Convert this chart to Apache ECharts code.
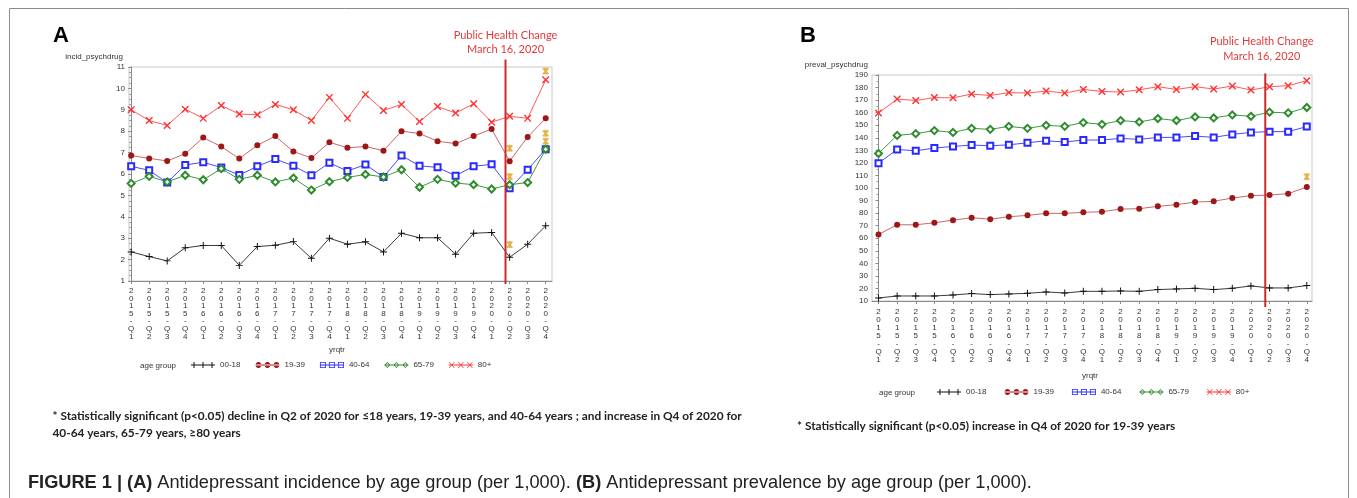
<!DOCTYPE html>
<html><head><meta charset="utf-8">
<script src="https://cdn.jsdelivr.net/npm/echarts@6/dist/echarts.min.js"></script>
<style>html,body{margin:0;padding:0;background:#fff}#c{width:1357px;height:498px}</style>
</head><body><div id="c"></div>
<script>
// ---------------- data ----------------
const quarters = ['2015-Q1','2015-Q2','2015-Q3','2015-Q4','2016-Q1','2016-Q2','2016-Q3','2016-Q4',
  '2017-Q1','2017-Q2','2017-Q3','2017-Q4','2018-Q1','2018-Q2','2018-Q3','2018-Q4',
  '2019-Q1','2019-Q2','2019-Q3','2019-Q4','2020-Q1','2020-Q2','2020-Q3','2020-Q4'];
const groups = ['00-18','19-39','40-64','65-79','80+'];

// Panel A: incidence per 1,000
const incid_0018 = [2.36,2.14,1.94,2.55,2.66,2.66,1.73,2.61,2.67,2.84,2.06,3.00,2.72,2.83,2.36,3.23,3.02,3.02,2.25,3.23,3.27,2.11,2.72,3.58];
const incid_1939 = [6.86,6.73,6.61,6.95,7.70,7.28,6.72,7.34,7.77,7.05,6.75,7.48,7.23,7.28,7.09,8.00,7.89,7.53,7.42,7.77,8.10,6.60,7.73,8.60];
const incid_4064 = [6.36,6.17,5.60,6.42,6.55,6.30,5.95,6.36,6.70,6.38,5.94,6.52,6.14,6.44,5.86,6.86,6.38,6.31,5.92,6.36,6.45,5.33,6.20,7.16];
const incid_6579 = [5.56,5.89,5.63,5.94,5.73,6.25,5.75,5.94,5.63,5.81,5.25,5.64,5.84,5.98,5.86,6.20,5.38,5.75,5.58,5.50,5.30,5.50,5.60,7.16];
const incid_80   = [9.00,8.50,8.27,9.03,8.60,9.20,8.80,8.77,9.25,9.00,8.50,9.58,8.60,9.72,8.97,9.25,8.45,9.15,8.85,9.28,8.42,8.70,8.60,10.40];
const incid_sig  = [[21,7.20],[21,5.88],[21,2.70],[23,10.81],[23,7.90],[23,7.53]];

// Panel B: prevalence per 1,000
const preval_0018 = [12.4,14.0,14.0,14.0,14.8,15.9,15.1,15.6,16.1,17.2,16.4,17.7,17.7,18.0,17.7,19.1,19.6,20.1,19.1,20.1,22.0,20.4,20.4,22.3];
const preval_1939 = [63.0,70.7,70.7,72.3,74.4,76.3,75.2,77.1,78.2,79.8,79.8,80.6,81.1,83.2,83.5,85.4,86.7,88.8,89.4,92.0,93.9,94.4,95.5,100.8];
const preval_4064 = [119.8,130.7,129.6,131.8,133.1,134.2,133.6,134.4,136.0,137.6,136.6,138.2,138.2,139.5,138.7,140.3,140.3,141.4,140.3,142.7,144.3,144.9,144.9,148.9];
const preval_6579 = [127.5,141.9,143.3,145.7,144.3,147.5,146.7,149.1,147.5,149.9,149.1,152.1,150.7,153.7,152.6,155.3,153.7,156.6,155.8,158.2,157.1,160.4,159.8,164.1];
const preval_80   = [159.8,170.8,169.7,172.0,171.8,174.8,173.7,176.0,175.6,177.2,175.6,178.5,176.9,176.4,178.2,180.7,178.5,180.7,178.8,181.2,178.0,180.7,181.5,185.5];
const preval_sig  = [[23,109]];

// Axis ranges / ticks
const incidAxis  = {min:1,  max:11,  step:1};
const prevalAxis = {min:10, max:190, step:10};
const eventPos = 20.77;  // March 16, 2020 on the quarter index scale
const eventText = 'Public Health Change\nMarch 16, 2020';

// ---------------- styles ----------------
const colors = {
  '00-18': {line:'#3a3a3a', mark:'#111111'},
  '19-39': {line:'#c46a6a', mark:'#9e1616'},
  '40-64': {line:'#4a4aff', mark:'#2a2aff'},
  '65-79': {line:'#3f9a3f', mark:'#2e8b2e'},
  '80+':   {line:'#ff5a5a', mark:'#ff3030'}
};
const PLUS = 'path://M0,4.3L10,4.3L10,5.7L0,5.7Z M4.3,0L5.7,0L5.7,10L4.3,10Z';
const XMARK = 'path://M0,0L1.4,0L10,8.6L10,10L8.6,10L0,1.4Z M10,0L10,1.4L1.4,10L0,10L0,8.6L8.6,0Z';
const STAR = 'path://M4,0L6,0L6,10L4,10Z M1.634,1.17L3.366,0.17L8.366,8.83L6.634,9.83Z M6.634,0.17L8.366,1.17L3.366,9.83L1.634,8.83Z';
const symbols = {
  '00-18': {symbol:PLUS, size:7, empty:false},
  '19-39': {symbol:'circle', size:6, empty:false},
  '40-64': {symbol:'emptyRect', size:6, empty:true},
  '65-79': {symbol:'emptyDiamond', size:7, empty:true},
  '80+':   {symbol:XMARK, size:7, empty:false}
};

// legend icons: line with three markers (box 24 x 6)
function legendIcon(g){
  let p = 'M0,2.5L24,2.5L24,3.5L0,3.5Z';
  [3,12,21].forEach(cx=>{
    if(g==='00-18') p += ` M${cx-0.5},0L${cx+0.5},0L${cx+0.5},6L${cx-0.5},6Z`;
    if(g==='19-39') p += ` M${cx-2.7},3A2.7,2.7 0 1,0 ${cx+2.7},3A2.7,2.7 0 1,0 ${cx-2.7},3Z`;
    if(g==='40-64') p += ` M${cx-3},0L${cx+3},0L${cx+3},6L${cx-3},6Z M${cx-2.2},0.8L${cx-2.2},5.2L${cx+2.2},5.2L${cx+2.2},0.8Z`;
    if(g==='65-79') p += ` M${cx},0L${cx+3},3L${cx},6L${cx-3},3Z M${cx},1.1L${cx-1.9},3L${cx},4.9L${cx+1.9},3Z`;
    if(g==='80+') p += ` M${cx-3},0L${cx-2.2},0L${cx+3},6L${cx+2.2},6Z M${cx+2.2},0L${cx+3},0L${cx-2.2},6L${cx-3},6Z`;
  });
  return 'path://' + p;
}

const FONT = 'Liberation Sans';

function xAxisFor(g, min, max, lh, margin){
  return {
    type:'value', gridIndex:g, min:min, max:max,
    axisLine:{show:true, lineStyle:{color:'#8a8a8a'}},
    axisTick:{show:true, length:3, customValues:quarters.map((q,i)=>i), lineStyle:{color:'#8a8a8a'}},
    axisLabel:{customValues:quarters.map((q,i)=>i), fontSize:8, fontFamily:FONT, color:'#333', lineHeight:lh, margin:margin,
      formatter:v=>{const q = quarters[Math.round(v)]; return q ? q.split('').join('\n') : '';}},
    splitLine:{show:false}
  };
}
function yAxisFor(g, ax, minorSplit){
  return {
    type:'value', gridIndex:g, min:ax.min, max:ax.max, interval:ax.step,
    axisLine:{show:true, lineStyle:{color:'#8a8a8a'}},
    axisTick:{show:true, length:3, lineStyle:{color:'#8a8a8a'}},
    minorTick:{show:true, splitNumber:minorSplit, length:2, lineStyle:{color:'#9a9a9a'}},
    axisLabel:{fontSize:8, fontFamily:FONT, color:'#333', margin:4},
    splitLine:{show:false}
  };
}

function panelSeries(g, arrays, sig, ax, ev){
  const out = groups.map((name,k)=>{
    const s = symbols[name], c = colors[name];
    return {
      type:'line', name:name, xAxisIndex:g, yAxisIndex:g,
      data: arrays[k].map((v,i)=>[i,v]),
      symbol:s.symbol, symbolSize:s.size, showAllSymbol:true,
      lineStyle:{color:c.line, width:1},
      itemStyle: s.empty ? {color:c.mark, borderColor:c.mark, borderWidth:1} : {color:c.mark, borderWidth:0},
      emphasis:{disabled:true}, animation:false, z:3+k
    };
  });
  out.push({
    type:'scatter', name:'sig', xAxisIndex:g, yAxisIndex:g, data:sig,
    symbol:STAR, symbolSize:7, itemStyle:{color:'#d9a21e'}, z:10, animation:false, emphasis:{disabled:true}
  });
  out.push({
    type:'custom', name:'event', xAxisIndex:g, yAxisIndex:g, data:[[eventPos, ax.max]], silent:true, z:20, animation:false,
    renderItem:(params, api)=>{
      const top = api.coord([api.value(0), ax.max]);
      const bot = api.coord([api.value(0), ax.min]);
      const y1 = top[1]-ev.extTop;
      return {type:'group', children:[
        {type:'line', shape:{x1:top[0], y1:y1, x2:bot[0], y2:bot[1]+ev.extBot}, style:{stroke:'#d02828', lineWidth:2}},
        {type:'text', x:top[0]+ev.dx, y:y1-ev.gap, style:{text:eventText, align:'center', verticalAlign:'bottom',
          fill:'#e23a3a', fontSize:11, fontFamily:'Lato', lineHeight:ev.lh}}
      ]};
    }
  });
  return out;
}

function legendFor(left, top, gap){
  return {
    left:left, top:top, orient:'horizontal', itemWidth:24, itemHeight:6, itemGap:gap, padding:0,
    selectedMode:false, symbolKeepAspect:false,
    textStyle:{fontSize:8, fontFamily:FONT, color:'#333'},
    data: groups.map(g=>({name:g, icon:legendIcon(g), itemStyle:{color:colors[g].mark, borderWidth:0}}))
  };
}

const chart = echarts.init(document.getElementById('c'), null, {renderer:'canvas'});
const note = {fontFamily:'Lato', fontSize:11.85, fontWeight:'bold', fill:'#222'};
chart.setOption({
  animation:false,
  backgroundColor:'#fff',
  grid:[
    {left:129, top:67, width:423, height:214, show:true, borderColor:'#c8c8c8', borderWidth:1},
    {left:872, top:75, width:440, height:226, show:true, borderColor:'#c8c8c8', borderWidth:1}
  ],
  xAxis:[ xAxisFor(0, -0.12, 23.35, 7.6, 6), xAxisFor(1, -0.35, 23.28, 8.0, 7) ],
  yAxis:[ yAxisFor(0, incidAxis, 4), yAxisFor(1, prevalAxis, 2) ],
  legend:[ legendFor(191, 361, 15), legendFor(937, 388, 18) ],
  series:[
    ...panelSeries(0, [incid_0018,incid_1939,incid_4064,incid_6579,incid_80], incid_sig, incidAxis,
      {extTop:7.5, extBot:3, gap:3, dx:0, lh:13.7}),
    ...panelSeries(1, [preval_0018,preval_1939,preval_4064,preval_6579,preval_80], preval_sig, prevalAxis,
      {extTop:1.6, extBot:6, gap:10, dx:-3.5, lh:14.4})
  ],
  graphic:[
    {type:'rect', shape:{x:9.5, y:8.5, width:1339, height:500}, style:{fill:'none', stroke:'#8c8c8c', lineWidth:1}, silent:true},
    {type:'text', x:53, y:36, style:{text:'A', fontFamily:FONT, fontSize:22, fontWeight:'bold', fill:'#000', verticalAlign:'middle'}},
    {type:'text', x:800, y:36, style:{text:'B', fontFamily:FONT, fontSize:22, fontWeight:'bold', fill:'#000', verticalAlign:'middle'}},
    {type:'text', x:123, y:57, style:{text:'incid_psychdrug', fontFamily:FONT, fontSize:8, fill:'#333', align:'right', verticalAlign:'middle'}},
    {type:'text', x:868, y:65, style:{text:'preval_psychdrug', fontFamily:FONT, fontSize:8, fill:'#333', align:'right', verticalAlign:'middle'}},
    {type:'text', x:337, y:350, style:{text:'yrqtr', fontFamily:FONT, fontSize:8, fill:'#333', align:'center', verticalAlign:'middle'}},
    {type:'text', x:1090, y:376, style:{text:'yrqtr', fontFamily:FONT, fontSize:8, fill:'#333', align:'center', verticalAlign:'middle'}},
    {type:'text', x:140, y:365.5, style:{text:'age group', fontFamily:FONT, fontSize:8, fill:'#333', verticalAlign:'middle'}},
    {type:'text', x:879, y:392.5, style:{text:'age group', fontFamily:FONT, fontSize:8, fill:'#333', verticalAlign:'middle'}},
    {type:'text', x:52.5, y:415.7, style:Object.assign({text:'* Statistically significant (p<0.05) decline in Q2 of 2020 for \u226418 years, 19-39 years, and 40-64 years ; and increase in Q4 of 2020 for', verticalAlign:'middle'}, note)},
    {type:'text', x:52.5, y:433, style:Object.assign({text:'40-64 years, 65-79 years, \u226580 years', verticalAlign:'middle'}, note)},
    {type:'text', x:797, y:426, style:Object.assign({text:'* Statistically significant (p<0.05) increase in Q4 of 2020 for 19-39 years', verticalAlign:'middle'}, note)},
    {type:'text', x:28, y:483, style:{text:'{b|FIGURE 1 | (A)} Antidepressant incidence by age group (per 1,000). {b|(B)} Antidepressant prevalence by age group (per 1,000).',
      fontFamily:FONT, fontSize:18.2, fill:'#222', verticalAlign:'middle',
      rich:{b:{fontFamily:FONT, fontSize:18.2, fontWeight:'bold', fill:'#222'}}}}
  ]
});
</script>
</body></html>
